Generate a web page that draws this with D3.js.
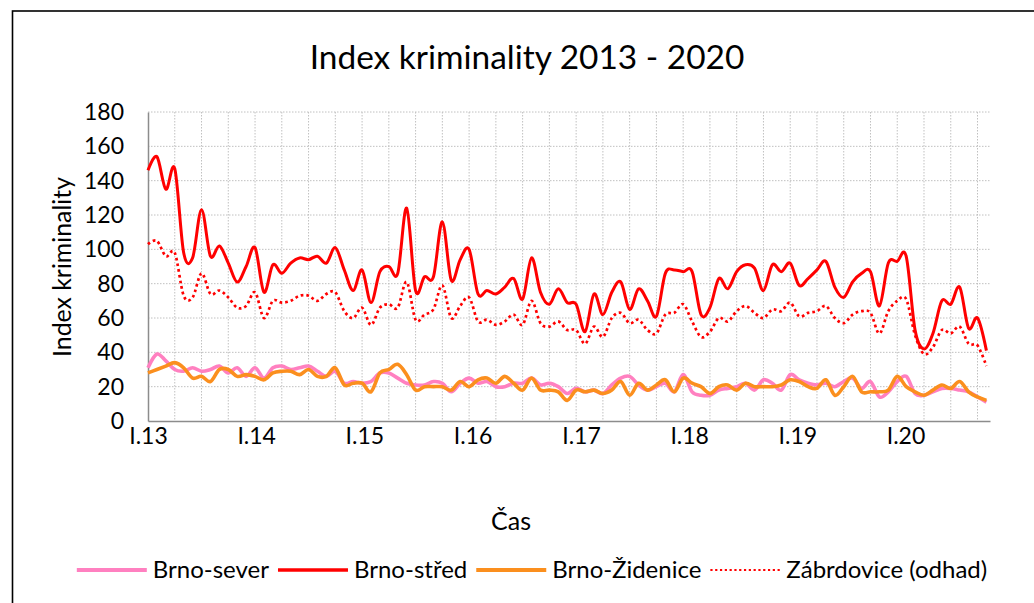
<!DOCTYPE html>
<meta charset="utf-8">
<style>
body { margin: 0; background: #fff; }
text { font-family: Lato, "Noto Sans", sans-serif; fill: #000; }
.grid line { stroke: #c0c0c0; stroke-width: 1; stroke-dasharray: 1.5 1.5; }
.axis path { stroke: #8c8c8c; stroke-width: 1.5; }
</style>
<body>
<svg width="1034" height="603"></svg>
<script src="https://cdn.jsdelivr.net/npm/d3@7"></script>
<script>
// monthly values, I.13 .. XI.20 (95 months)
var brnoSever = [31, 39, 35, 30, 29, 31, 29, 30, 32, 28, 31, 26,
  31, 25, 31, 32, 30, 31, 32, 29, 26, 29, 22, 23,
  22, 23, 28, 28, 25, 22, 21, 21, 23, 22, 17, 22,
  25, 22, 23, 20, 20, 22, 22, 25, 21, 22, 20, 16,
  19, 17, 18, 16, 21, 25, 26, 21, 18, 20, 22, 17,
  27, 17, 15, 15, 18, 19, 20, 22, 18, 24, 22, 18,
  27, 24, 22, 21, 22, 20, 23, 25, 19, 23, 14, 17,
  23, 26, 16, 15, 17, 19, 19, 18, 17, 14, 11];
var brnoStred = [146, 154, 135, 147, 98, 95, 123, 96, 102, 92, 81, 90,
  101, 75, 91, 86, 92, 95, 94, 96, 92, 101, 88, 76,
  88, 69, 87, 90, 86, 124, 76, 84, 84, 116, 82, 94,
  100, 74, 76, 74, 78, 83, 71, 95, 75, 68, 77, 69,
  68, 52, 74, 62, 75, 81, 65, 77, 70, 61, 86, 88,
  87, 87, 62, 66, 83, 77, 87, 91, 89, 76, 91, 87,
  92, 79, 83, 88, 93, 78, 72, 81, 86, 87, 67, 92,
  93, 96, 53, 42, 51, 70, 68, 78, 54, 60, 41];
var brnoZidenice = [28, 30, 32, 34, 31, 25, 26, 23, 30, 30, 26, 27,
  26, 24, 28, 29, 29, 27, 30, 26, 26, 31, 21, 22,
  22, 17, 28, 30, 33, 27, 18, 20, 20, 20, 18, 23,
  20, 24, 25, 22, 26, 22, 18, 25, 18, 18, 17, 12,
  18, 17, 18, 16, 18, 23, 15, 22, 18, 21, 24, 17,
  25, 22, 20, 16, 20, 21, 18, 22, 20, 20, 20, 21,
  24, 23, 20, 19, 24, 15, 20, 26, 17, 17, 17, 18,
  26, 20, 17, 15, 18, 21, 19, 23, 17, 14, 12];
var zabrdovice = [103, 105, 96, 98, 73, 72, 86, 74, 76, 72, 66, 67,
  75, 60, 70, 69, 70, 73, 73, 70, 74, 75, 64, 60,
  66, 56, 66, 68, 66, 81, 59, 62, 65, 79, 60, 67,
  72, 58, 59, 56, 58, 62, 56, 70, 57, 55, 58, 53,
  53, 45, 55, 49, 60, 63, 57, 59, 53, 51, 62, 63,
  68, 58, 49, 52, 60, 58, 64, 67, 63, 60, 65, 64,
  69, 61, 63, 64, 67, 60, 57, 62, 64, 63, 51, 64,
  70, 71, 50, 39, 43, 53, 51, 55, 45, 44, 32];

var seriesNames = ["Brno-sever", "Brno-střed", "Brno-Židenice", "Zábrdovice (odhad)"];
var xTickLabels = ["I.13", "I.14", "I.15", "I.16", "I.17", "I.18", "I.19", "I.20"];
var xTickYears = [2013, 2014, 2015, 2016, 2017, 2018, 2019, 2020];
var yTicks = [0, 20, 40, 60, 80, 100, 120, 140, 160, 180];

var series = [
  {name: seriesNames[0], values: brnoSever, color: "#ff80c0", width: 3.6, dash: null},
  {name: seriesNames[1], values: brnoStred, color: "#ff0000", width: 3, dash: null},
  {name: seriesNames[2], values: brnoZidenice, color: "#fb8f1e", width: 3.6, dash: null},
  {name: seriesNames[3], values: zabrdovice, color: "#ff0000", width: 2.7, dash: "2.7 3"}
];

var svg = d3.select("svg");
var plotL = 148, plotR = 990, plotT = 112, plotB = 421;

// chart border
svg.append("rect")
    .attr("x", 12.5).attr("y", 11)
    .attr("width", 1040).attr("height", 620)
    .attr("fill", "#fff").attr("stroke", "#000").attr("stroke-width", 1.6);

// data by month index, axis labels by calendar date (date axis)
var x = d3.scaleLinear().domain([0, 94.4]).range([plotL, plotR]);
var xTime = d3.scaleTime()
    .domain([new Date(2013, 0, 1), new Date(2020, 9, 12)])
    .range([plotL, plotR]);
var y = d3.scaleLinear().domain([0, 180]).range([plotB, plotT]);

// gridlines
var grid = svg.append("g").attr("class", "grid");
grid.selectAll(".h").data(yTicks.slice(1)).enter().append("line")
    .attr("x1", plotL).attr("x2", plotR)
    .attr("y1", function(d) { return y(d); }).attr("y2", function(d) { return y(d); });
grid.selectAll(".v").data(d3.range(3, 95, 3)).enter().append("line")
    .attr("y1", plotT).attr("y2", plotB)
    .attr("x1", function(d) { return x(d); }).attr("x2", function(d) { return x(d); });

// axes
svg.append("g").attr("class", "axis")
    .attr("transform", "translate(" + plotL + ",0)")
    .call(d3.axisLeft(y).tickValues(yTicks).tickSize(0).tickPadding(24));
svg.append("g").attr("class", "axis")
    .attr("transform", "translate(0," + plotB + ")")
    .call(d3.axisBottom(xTime)
      .tickValues(xTickYears.map(function(yr) { return new Date(yr, 0, 1); }))
      .tickSize(0).tickPadding(7)
      .tickFormat(function(d, i) { return xTickLabels[i]; }));
svg.selectAll(".axis").attr("font-family", null).attr("font-size", null);
svg.selectAll(".axis text").attr("font-size", 23).attr("fill", "#000");

// lines
var line = d3.line()
    .x(function(d, i) { return x(i); })
    .y(function(d) { return y(d); })
    .curve(d3.curveCatmullRom.alpha(0));

svg.append("g").selectAll("path").data(series).enter().append("path")
    .attr("d", function(d) { return line(d.values); })
    .attr("fill", "none")
    .attr("stroke", function(d) { return d.color; })
    .attr("stroke-width", function(d) { return d.width; })
    .attr("stroke-dasharray", function(d) { return d.dash; })
    .attr("stroke-linejoin", "round");

// fit text width helper (font substitution for Calibri)
function fit(sel, w) {
  var fs = parseFloat(sel.attr("font-size"));
  var cw = sel.node().getComputedTextLength();
  sel.attr("font-size", fs * w / cw);
  return sel;
}

// titles
fit(svg.append("text")
    .attr("x", 527).attr("y", 69)
    .attr("text-anchor", "middle").attr("font-size", 34)
    .text("Index kriminality 2013 - 2020"), 435);

fit(svg.append("text")
    .attr("transform", "translate(71,267) rotate(-90)")
    .attr("text-anchor", "middle").attr("font-size", 25)
    .text("Index kriminality"), 180);

svg.append("text")
    .attr("x", 511).attr("y", 530)
    .attr("text-anchor", "middle").attr("font-size", 25)
    .text("Čas");

// legend
var legend = svg.append("g");
var cx = 0;
series.forEach(function(s) {
  legend.append("line")
      .attr("x1", cx).attr("x2", cx + 70)
      .attr("y1", 570).attr("y2", 570)
      .attr("stroke", s.color)
      .attr("stroke-width", s.dash ? 2.2 : s.width + 0.6)
      .attr("stroke-dasharray", s.dash ? "2.2 2.6" : null);
  var t = legend.append("text")
      .attr("x", cx + 76).attr("y", 570).attr("dy", "0.35em")
      .attr("font-size", 24)
      .text(s.name);
  cx += 76 + t.node().getComputedTextLength() + 9;
});
var lw = cx - 9;
legend.attr("transform", "translate(" + (532 - lw / 2) + ",0)");
</script>
</body>
